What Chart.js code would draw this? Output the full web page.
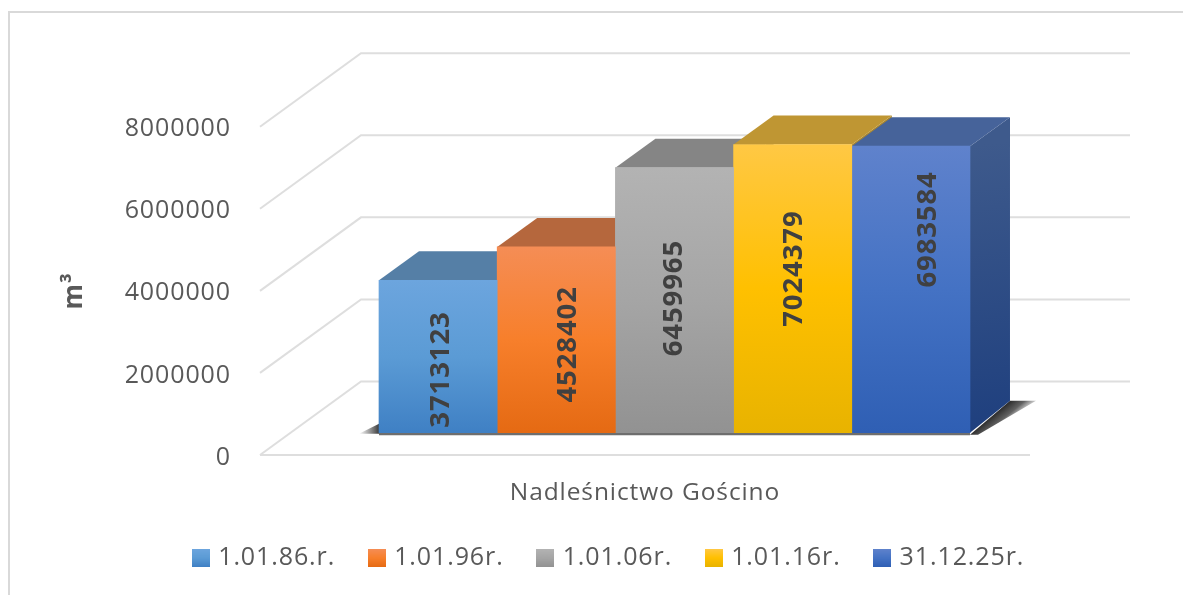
<!DOCTYPE html>
<html><head><meta charset="utf-8">
<style>html,body{margin:0;padding:0;background:#fff}#w{width:1183px;height:595px}</style>
<script src="https://cdn.jsdelivr.net/npm/chart.js@4"></script>
</head><body><div id="w"><canvas id="c"></canvas></div>
<script>
const categories = ['Nadleśnictwo Gościno'];
const seriesNames = ['1.01.86.r.', '1.01.96r.', '1.01.06r.', '1.01.16r.', '31.12.25r.'];
const v1986 = [3713123];
const v1996 = [4528402];
const v2006 = [6459965];
const v2016 = [7024379];
const v2025 = [6983584];
const seriesValues = [v1986, v1996, v2006, v2016, v2025];
const yTicks = [0, 2000000, 4000000, 6000000, 8000000];

const gradStops = [
  ['#6CA5DE', '#5B9BD5', '#3F80C4'],
  ['#F58D55', '#F77F2B', '#E56A13'],
  ['#B3B3B3', '#A5A5A5', '#929292'],
  ['#FFC844', '#FFC000', '#E8B300'],
  ['#5F82CC', '#4472C4', '#2F5FB4']
];
const topColors = ['#557FA6', '#B5673D', '#858585', '#BF9633', '#46639A'];
const sideTop = ['#4A6E90', '#A85C36', '#777777', '#A88630', '#3E5A8C'];
const sideBottom = ['#2B5C90', '#A04A10', '#666666', '#A07C00', '#1E3F7E'];
const labelNudgeX = [3, 12, 0, 1, 17];
const labelNudgeY = [13, 4.5, -2, -20, -60];
const FONT = '"Open Sans"';
const INK = '#595959';
const DEPTH = 40, RISE = 29, RISE_BASE = 32;
const WALL_DX = 101, WALL_DY = 73.5;
const BASE_SHIFT = 542600;

function barGradient(c, i, top, bottom) {
  const g = c.createLinearGradient(0, top, 0, bottom);
  g.addColorStop(0, gradStops[i][0]);
  g.addColorStop(0.5, gradStops[i][1]);
  g.addColorStop(1, gradStops[i][2]);
  return g;
}
function swatch(i) {
  const cv = document.createElement('canvas');
  cv.width = 18; cv.height = 18;
  const c = cv.getContext('2d');
  c.fillStyle = barGradient(c, i, 0, 18);
  c.fillRect(0, 0, 18, 18);
  return cv;
}
function poly(c, pts, fill) {
  c.beginPath();
  pts.forEach((p, k) => k ? c.lineTo(p[0], p[1]) : c.moveTo(p[0], p[1]));
  c.closePath();
  c.fillStyle = fill;
  c.fill();
}

const scene = {
  id: 'scene',
  beforeLayout(chart) { chart.ctx.letterSpacing = '0.9px'; },
  afterLayout(chart) {
    const l = chart.legend;
    l.left = 610 - l.width / 2;
    l.right = 610 + l.width / 2;
    const h = l.height;
    l.top = 509; l.bottom = 509 + h;
    l.adjustHitBoxes();
  },
  beforeDraw(chart) {
    const c = chart.ctx;
    c.save();
    c.fillStyle = '#fff';
    c.fillRect(0, 0, chart.width, chart.height);
    c.strokeStyle = '#D9D9D9';
    c.lineWidth = 2;
    c.beginPath();
    c.moveTo(9, chart.height + 2); c.lineTo(9, 12); c.lineTo(chart.width + 2, 12);
    c.stroke();
    c.restore();
  },
  beforeDatasetsDraw(chart) {
    const c = chart.ctx, y = chart.scales.y, a = chart.chartArea;
    c.save();
    c.strokeStyle = '#DEDEDE';
    c.lineWidth = 2;
    yTicks.forEach(t => {
      const p = y.getPixelForValue(t);
      c.beginPath();
      c.moveTo(a.left, p);
      c.lineTo(a.left + WALL_DX, p - WALL_DY);
      c.lineTo(a.right + WALL_DX - 1, p - WALL_DY);
      c.stroke();
    });
    const y0 = y.getPixelForValue(0);
    c.beginPath(); c.moveTo(a.left, y0); c.lineTo(a.right, y0); c.stroke();

    const metas = chart.getSortedVisibleDatasetMetas();
    const first = metas[0].data[0], last = metas[metas.length - 1].data[0];
    const L = first.x - first.width / 2, R = last.x + last.width / 2, B = first.base;
    // contact shadow on the floor
    let g = c.createLinearGradient(L - 20, 0, L, 0);
    g.addColorStop(0, 'rgba(60,60,60,0)'); g.addColorStop(1, 'rgba(50,50,50,0.95)');
    poly(c, [[L - 20, B + 1], [L, B + 1], [L, B - 9]], g);
    poly(c, [[L, B], [R, B], [R, B + 2.5], [L, B + 2.5]], '#6E6E6E');
    const mx = R + DEPTH / 2, my = B - RISE_BASE / 2;
    g = c.createLinearGradient(mx, my, mx + 14, my + 17);
    g.addColorStop(0, 'rgba(40,40,40,1)');
    g.addColorStop(0.45, 'rgba(70,70,70,0.85)');
    g.addColorStop(1, 'rgba(140,140,140,0)');
    poly(c, [[R, B + 2], [R + DEPTH, B - RISE_BASE], [R + DEPTH + 26, B - RISE_BASE], [R + 8, B + 2]], g);

    metas.forEach((m, i) => {
      const e = m.data[0], l = e.x - e.width / 2, r = e.x + e.width / 2, t = e.y, b = e.base;
      const s = c.createLinearGradient(r, t, r + DEPTH, b);
      s.addColorStop(0, sideTop[i]); s.addColorStop(1, sideBottom[i]);
      poly(c, [[r, t], [r + DEPTH, t - RISE], [r + DEPTH, b - RISE_BASE], [r, b]], s);
      poly(c, [[l, t], [r, t], [r + DEPTH, t - RISE], [l + DEPTH, t - RISE]], topColors[i]);
    });
    c.restore();
  },
  afterDatasetsDraw(chart) {
    const c = chart.ctx;
    chart.getSortedVisibleDatasetMetas().forEach((m, i) => {
      const e = m.data[0];
      c.save();
      c.translate(e.x + labelNudgeX[i], (e.y + e.base) / 2 + labelNudgeY[i]);
      c.rotate(-Math.PI / 2);
      c.font = 'bold 27.5px ' + FONT;
      c.fillStyle = '#404040';
      c.textAlign = 'center';
      c.textBaseline = 'middle';
      c.fillText(String(seriesValues[i][0]), 0, 0);
      c.restore();
    });
  }
};

new Chart(document.getElementById('c'), {
  type: 'bar',
  plugins: [scene],
  data: {
    labels: categories,
    datasets: seriesNames.map((name, i) => ({
      label: name,
      data: seriesValues[i].map(v => ({ x: 0, y: v })),
      xAxisID: 'x2',
      yAxisID: 'y2',
      borderWidth: 0,
      backgroundColor(ctx) {
        const s = ctx.chart.scales.y2;
        if (!s) return gradStops[i][1];
        return barGradient(ctx.chart.ctx, i, s.getPixelForValue(seriesValues[i][0]), s.getPixelForValue(0));
      }
    }))
  },
  options: {
    responsive: true,
    maintainAspectRatio: false,
    animation: false,
    layout: { padding: { left: 59, right: 153, top: 126.7, bottom: 0 } },
    font: { family: FONT },
    plugins: {
      tooltip: { enabled: false },
      title: { display: false },
      legend: {
        position: 'bottom',
        labels: {
          usePointStyle: true,
          pointStyleWidth: 10,
          boxHeight: 18,
          padding: 36.5,
          color: INK,
          font: { family: FONT, size: 25 },
          generateLabels(chart) {
            return chart.data.datasets.map((d, i) => ({
              text: d.label, datasetIndex: i, pointStyle: swatch(i),
              fontColor: INK, lineWidth: 0, strokeStyle: 'transparent', fillStyle: gradStops[i][1], hidden: false
            }));
          }
        }
      }
    },
    scales: {
      x: {
        type: 'category',
        grid: { display: false },
        border: { display: false },
        ticks: { color: INK, font: { family: FONT, size: 24.5 }, padding: 15 },
        afterFit(s) { s.height = s.chart.height - 455 - s.chart.legend.height; }
      },
      x2: { type: 'linear', display: false, min: -0.5383, max: 0.4617, offset: false },
      y: {
        type: 'linear',
        min: 0,
        max: 8000000,
        position: 'left',
        grid: { display: false },
        border: { display: false },
        afterBuildTicks(s) { s.ticks = yTicks.map(v => ({ value: v })); },
        ticks: { color: INK, font: { family: FONT, size: 25 }, padding: 21, labelOffset: 2.5, callback: v => String(v) },
        title: { display: true, text: 'm³', color: INK, font: { family: FONT, size: 26, weight: 'bold' }, padding: { top: 0, bottom: 0 } },
        afterFit(s) { s.width = 201; }
      },
      y2: { type: 'linear', display: false, min: -BASE_SHIFT, max: 8000000 - BASE_SHIFT }
    },
    datasets: { bar: { barThickness: 118.2 } }
  }
});
</script></body></html>
